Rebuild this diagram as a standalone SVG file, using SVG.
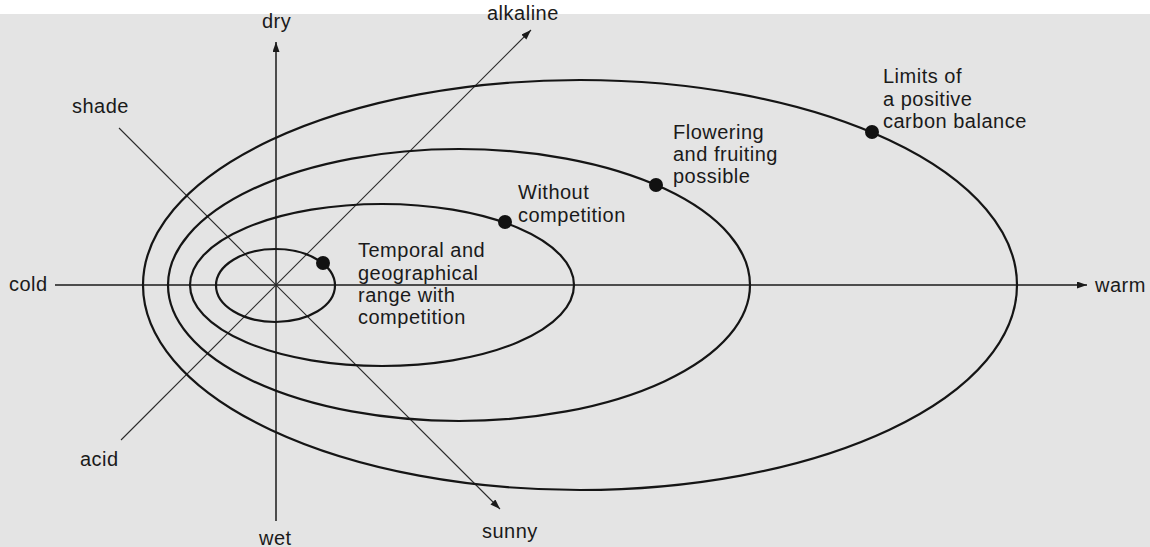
<svg xmlns="http://www.w3.org/2000/svg" width="1150" height="547" viewBox="0 0 1150 547">
<defs>
<marker id="arr" markerWidth="11" markerHeight="8" refX="10" refY="3.5" orient="auto" markerUnits="userSpaceOnUse">
<path d="M0,0 L10,3.5 L0,7 z" fill="#1a1a1a"/>
</marker>
</defs>
<style>
text{font-family:"Liberation Sans",Arial,sans-serif;font-size:20px;letter-spacing:0.5px;fill:#1a1a1a}
.axis{stroke:#1a1a1a;stroke-width:1.5;fill:none}
.diag{stroke:#2a2a2a;stroke-width:1.1;fill:none}
.ring{stroke:#151515;stroke-width:2.2;fill:none}
.dot{fill:#111}
</style>
<rect x="0" y="0" width="1150" height="547" fill="#ffffff"/>
<rect x="0" y="14" width="1150" height="533" fill="#e4e4e4"/>
<g id="connectors">
<line class="axis" x1="55" y1="285" x2="1087" y2="285" marker-end="url(#arr)"/>
<line class="axis" x1="276" y1="521" x2="276" y2="42" marker-end="url(#arr)"/>
<line class="diag" x1="119" y1="128" x2="500" y2="509" marker-end="url(#arr)"/>
<line class="diag" x1="121" y1="440" x2="531" y2="30" marker-end="url(#arr)"/>
</g>
<g id="axis-labels">
<text x="262" y="28">dry</text>
<text x="259" y="545">wet</text>
<text x="9" y="291">cold</text>
<text x="1095" y="292">warm</text>
<text x="72" y="113">shade</text>
<text x="482" y="538">sunny</text>
<text x="80" y="466">acid</text>
<text x="487" y="20">alkaline</text>
</g>
<g id="limits-carbon">
<ellipse class="ring" cx="580" cy="285" rx="437" ry="205"/>
<circle class="dot" cx="872" cy="132" r="7"/>
<text x="883" y="83">Limits of</text>
<text x="883" y="105.5">a positive</text>
<text x="883" y="128">carbon balance</text>
</g>
<g id="flowering">
<ellipse class="ring" cx="459" cy="285" rx="291" ry="136"/>
<circle class="dot" cx="656" cy="185" r="7"/>
<text x="673" y="139">Flowering</text>
<text x="673" y="161">and fruiting</text>
<text x="673" y="183">possible</text>
</g>
<g id="without-competition">
<ellipse class="ring" cx="382" cy="285" rx="192" ry="81"/>
<circle class="dot" cx="505" cy="222" r="7"/>
<text x="518" y="199">Without</text>
<text x="518" y="222">competition</text>
</g>
<g id="with-competition">
<ellipse class="ring" cx="275.5" cy="285.5" rx="59.5" ry="36.5"/>
<circle class="dot" cx="323" cy="263" r="7"/>
<text x="358" y="257">Temporal and</text>
<text x="358" y="279.5">geographical</text>
<text x="358" y="301.5">range with</text>
<text x="358" y="323.5">competition</text>
</g>
</svg>
